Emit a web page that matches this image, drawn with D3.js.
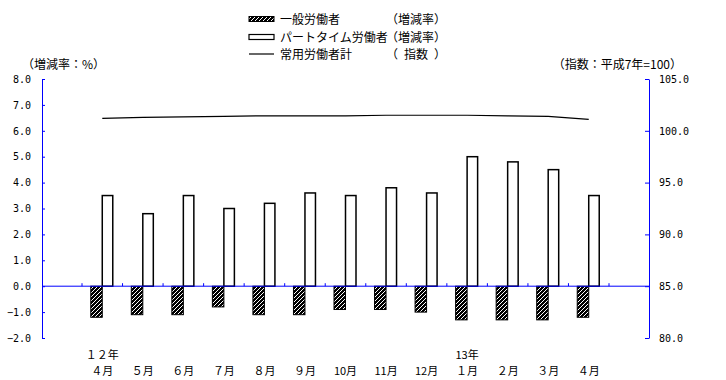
<!DOCTYPE html>
<html>
<head>
<meta charset="utf-8">
<script src="https://cdn.jsdelivr.net/npm/d3@7"></script>
<style>
  body { margin: 0; background: #fff; }
  .jp { font-family: "Noto Sans CJK JP", sans-serif; font-size: 12px; fill: #000; }
  .cat { font-family: "Noto Sans CJK JP", sans-serif; font-size: 11px; fill: #000; }
  .num { font-family: "DejaVu Sans Mono", monospace; font-size: 10px; }
</style>
</head>
<body>
<div id="chart"></div>
<script>
// data
let months = ['４月', '５月', '６月', '７月', '８月', '９月', '10月', '11月', '12月', '１月', '２月', '３月', '４月']
let yearLabels = [{ i: 0, text: '１２年' }, { i: 9, text: '13年' }]
let general = [-1.2, -1.1, -1.1, -0.8, -1.1, -1.1, -0.9, -0.9, -1.0, -1.3, -1.3, -1.3, -1.2]
let partTime = [3.5, 2.8, 3.5, 3.0, 3.2, 3.6, 3.5, 3.8, 3.6, 5.0, 4.8, 4.5, 3.5]
let totalIndex = [101.2, 101.3, 101.35, 101.4, 101.45, 101.45, 101.45, 101.5, 101.5, 101.5, 101.45, 101.4, 101.1]
let leftTicks = [-2, -1, 0, 1, 2, 3, 4, 5, 6, 7, 8]
let rightTicks = [80, 85, 90, 95, 100, 105]

let width = 726, height = 380
let plotLeft = 42, plotRight = 649, plotTop = 79, plotBottom = 338
let blue = '#0000ff'

let svg = d3.select('#chart').append('svg')
  .attr('width', width)
  .attr('height', height)

let defs = svg.append('defs')
let pat = defs.append('pattern')
  .attr('id', 'hatch')
  .attr('patternUnits', 'userSpaceOnUse')
  .attr('width', 4)
  .attr('height', 4)
pat.append('rect').attr('width', 4).attr('height', 4).attr('fill', '#000')
pat.append('path')
  .attr('d', 'M-1,1 L1,-1 M0,4 L4,0 M3,5 L5,3')
  .attr('stroke', '#fff')
  .attr('stroke-width', 1)

let x = d3.scaleBand()
  .domain(d3.range(months.length))
  .range([82, 609])
  .padding(0)

let yLeft = d3.scaleLinear().domain([-2, 8]).range([plotBottom, plotTop])
let yRight = d3.scaleLinear().domain([80, 105]).range([plotBottom, plotTop])

let barW = 11.5
let center = i => x(i) + x.bandwidth() / 2

// left axis
let leftAxis = svg.append('g')
  .attr('transform', `translate(${plotLeft},0)`)
  .call(d3.axisLeft(yLeft).tickValues(leftTicks).tickFormat(d3.format('.1f'))
    .tickSizeInner(-3).tickSizeOuter(0).tickPadding(11))
leftAxis.selectAll('path, line').attr('stroke', blue)
leftAxis.selectAll('text').attr('class', 'num').attr('fill', '#000')

// right axis
let rightAxis = svg.append('g')
  .attr('transform', `translate(${plotRight},0)`)
  .call(d3.axisRight(yRight).tickValues(rightTicks).tickFormat(d3.format('.1f'))
    .tickSizeInner(-4).tickSizeOuter(0).tickPadding(10))
rightAxis.selectAll('path, line').attr('stroke', blue)
rightAxis.selectAll('text').attr('class', 'num').attr('fill', '#000')

// bars
svg.selectAll('.genBar')
  .data(general)
  .join('rect')
  .attr('class', 'genBar')
  .attr('x', (d, i) => center(i) - barW)
  .attr('y', d => yLeft(Math.max(0, d)))
  .attr('width', barW)
  .attr('height', d => Math.abs(yLeft(d) - yLeft(0)))
  .attr('fill', 'url(#hatch)')
  .attr('stroke', '#000')
  .attr('stroke-width', 1)

svg.selectAll('.ptBar')
  .data(partTime)
  .join('rect')
  .attr('class', 'ptBar')
  .attr('x', (d, i) => center(i))
  .attr('y', d => yLeft(Math.max(0, d)))
  .attr('width', barW - 1)
  .attr('height', d => Math.abs(yLeft(d) - yLeft(0)))
  .attr('fill', '#fff')
  .attr('stroke', '#000')
  .attr('stroke-width', 1.5)

// zero line with category ticks
svg.append('line')
  .attr('x1', plotLeft).attr('x2', plotRight)
  .attr('y1', yLeft(0)).attr('y2', yLeft(0))
  .attr('stroke', blue).attr('stroke-width', 1)

svg.selectAll('.catTick')
  .data(d3.range(months.length + 1))
  .join('line')
  .attr('class', 'catTick')
  .attr('x1', i => i < months.length ? x(i) : x(i - 1) + x.bandwidth())
  .attr('x2', i => i < months.length ? x(i) : x(i - 1) + x.bandwidth())
  .attr('y1', yLeft(0))
  .attr('y2', yLeft(0) - 3)
  .attr('stroke', blue)

// index line
let line = d3.line()
  .x((d, i) => center(i))
  .y(d => yRight(d))
svg.append('path')
  .datum(totalIndex)
  .attr('d', line)
  .attr('fill', 'none')
  .attr('stroke', '#000')
  .attr('stroke-width', 1.2)

// category labels
svg.selectAll('.month')
  .data(months)
  .join('text')
  .attr('class', 'cat')
  .attr('x', (d, i) => center(i))
  .attr('y', 375)
  .attr('text-anchor', 'middle')
  .text(d => d)

svg.selectAll('.year')
  .data(yearLabels)
  .join('text')
  .attr('class', 'cat')
  .attr('x', d => center(d.i))
  .attr('y', 358.5)
  .attr('text-anchor', 'middle')
  .text(d => d.text)

// axis titles
svg.append('text').attr('class', 'jp')
  .attr('x', 22).attr('y', 69)
  .text('（増減率：%）')
svg.append('text').attr('class', 'jp')
  .attr('x', 682).attr('y', 69)
  .attr('text-anchor', 'end')
  .text('（指数：平成7年=100）')

// legend
let legendX = 249, textX = 280, unitX = 386
let legendRows = [
  { y: 19, name: '一般労働者', unit: '（増減率）' },
  { y: 37, name: 'パートタイム労働者', unit: '（増減率）' },
  { y: 54, name: '常用労働者計', unit: '（\u2002指数\u2002）' }
]
svg.append('rect')
  .attr('x', legendX).attr('y', 16.5).attr('width', 25).attr('height', 5)
  .attr('fill', 'url(#hatch)').attr('stroke', '#000')
svg.append('rect')
  .attr('x', legendX).attr('y', 34.5).attr('width', 25).attr('height', 5)
  .attr('fill', '#fff').attr('stroke', '#000').attr('stroke-width', 1.2)
svg.append('line')
  .attr('x1', legendX).attr('x2', legendX + 25)
  .attr('y1', 54).attr('y2', 54)
  .attr('stroke', '#000').attr('stroke-width', 1.2)

svg.selectAll('.legName')
  .data(legendRows)
  .join('text')
  .attr('class', 'jp')
  .attr('x', textX)
  .attr('y', d => d.y + 4.5)
  .text(d => d.name)

svg.selectAll('.legUnit')
  .data(legendRows)
  .join('text')
  .attr('class', 'jp')
  .attr('x', unitX)
  .attr('y', d => d.y + 4.5)
  .text(d => d.unit)
</script>
</body>
</html>
